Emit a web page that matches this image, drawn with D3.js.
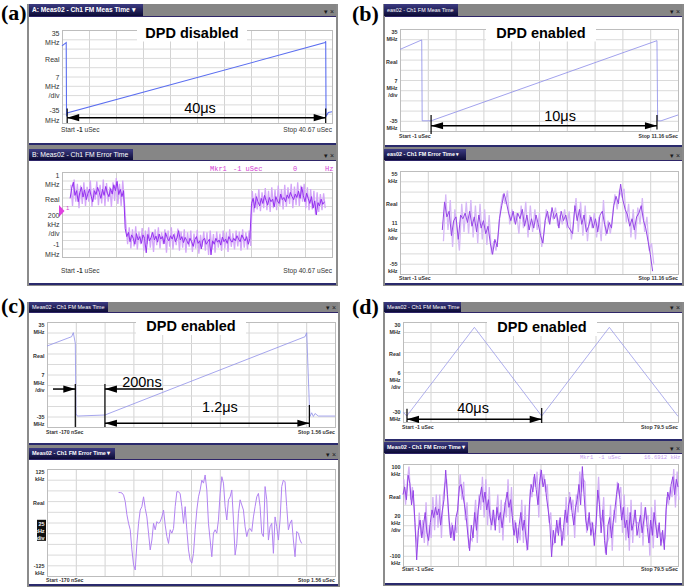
<!DOCTYPE html>
<html>
<head>
<meta charset="utf-8">
<script src="https://cdn.jsdelivr.net/npm/d3@7"></script>
<style>
body { margin: 0; background: #fff; }
svg { display: block; }
text { font-family: "Liberation Sans", Arial, sans-serif; }
</style>
</head>
<body>
<script>
'use strict'

////////////////////////////////////
////////////// data ////////////////
////////////////////////////////////

// sweep span of each screen (uSec) and vertical range
const aTime = [-1, 40.67]
const bTime = [-1, 11.16]
const cTime = [-0.17, 1.56]
const dTime = [-1, 79.5]

const aMeasRange = [-35, 35]      // MHz
const aErrRange = [-1000, 1000]   // kHz
const bMeasRange = [-35, 35]
const bErrRange = [-55, 55]
const cMeasRange = [-35, 35]
const cErrRange = [-125, 125]
const dMeasRange = [-30, 30]
const dErrRange = [-100, 100]

// y labels, top to bottom
const aMeasLabels = ['35', 'MHz', 'Real', '7', 'MHz', '/div', '-35', 'MHz']
const aErrLabels = ['1', 'MHz', 'Real', '200', 'kHz', '/div', '-1', 'MHz']
const bMeasLabels = ['35', 'MHz', 'Real', '7', 'MHz', '/div', '-35', 'MHz']
const bErrLabels = ['55', 'kHz', 'Real', '11', 'kHz', '/div', '-55', 'kHz']
const cMeasLabels = ['35', 'MHz', 'Real', '7', 'MHz', '/div', '-35', 'MHz']
const cErrLabels = ['125', 'kHz', 'Real', '25', 'kHz', '/div', '-125', 'kHz']
const dMeasLabels = ['30', 'MHz', 'Real', '6', 'MHz', '/div', '-30', 'MHz']
const dErrLabels = ['100', 'kHz', 'Real', '20', 'kHz', '/div', '-100', 'kHz']

// FM meas time traces: [uSec, MHz]
const aMeas = [[-1, 23], [-0.35, 25.5], [-0.3, -30], [-0.22, -27.5], [39.6, 25.5], [39.7, 26.5], [39.75, -30], [40.1, -27], [40.67, -26.5]]
const bMeas = [[-1, 21], [-0.05, 27.5], [-0.03, -28], [0.36, -28], [10.24, 27], [10.27, -28], [10.42, -28], [11.16, -24]]
const cMeas = [[-0.17, 19], [-0.022, 25.2], [-0.012, 27.9], [0.0, 20.8], [0.004, -25.9], [0.012, -27.7], [0.178, -27], [1.38, 25.2], [1.39, 27.9], [1.406, -20.3], [1.41, -28], [1.42, -25.5], [1.43, -28], [1.44, -26], [1.46, -27.7], [1.56, -27.7]]
const dMeas = [[-1, -24], [0.1, -26.4], [19.9, 26.8], [39.6, -26.4], [59.4, 26.8], [79.5, -26.6]]

// FM error time traces: sampled values (kHz), first sample time and spacing (uSec)
// *Err = main (dark) trace, *Pk = peak detector (light) trace between the samples
const aErrStart = 0.25, aErrStep = 0.25
const aErr = [
  380, 620, 760, 450, 560, 300, 520, 640, 410, 580, 350, 490, 600, 430, 300, 560, 470, 640, 520, 380,
  590, 450, 660, 500, 420, 610, 480, 700, 560, 780, 470, 590, 420, 560,
  -330, -520, -420, -640, -480, -560, -700, -450, -600, -520, -680, -480, -560, -900, -470, -620, -540, -420, -600, -510,
  -650, -460, -580, -520, -690, -430, -560, -620, -500, -580, -470, -640, -550, -380, -600, -520, -660, -540, -610, -700,
  -560, -640, -750, -590, -520, -680, -620, -810, -600, -560, -700, -640, -580, -950, -620, -700, -560, -650, -600, -720,
  -530, -640, -580, -680, -520, -600, -650, -560, -620, -500, -580, -640, -480, -560, -620, -520, -700, -560,
  260, 380, 150, 420, 300, 200, 380, 260, 450, 330, 220, 400, 300, 360, 180, 420, 320, 260, 480, 350,
  400, 300, 460, 380, 520, 420, 350, 480, 400, 550, 380, 650, 440, 300, 500, 380, 260, 420, 150, 320,
  -10, 280, 200, 360, 240, 300
]
const aPk = [
  700, 200, 820, 300, 720, 150, 680, 250, 760, 200, 650, 300, 800, 180, 620, 350, 780, 220, 700, 260,
  820, 200, 740, 300, 650, 180, 760, 320, 860, 250, 720, 200, 800, 300,
  -250, -700, -300, -800, -350, -750, -280, -820, -400, -700, -320, -850, -380, -700, -300, -780, -420, -880, -350, -720,
  -300, -800, -420, -700, -350, -900, -380, -760, -300, -820, -440, -720, -330, -850, -400, -780, -350, -900, -420, -760,
  -380, -880, -450, -800, -360, -920, -480, -760, -400, -850, -420, -950, -380, -820, -460, -900, -400, -780, -450, -860,
  -380, -800, -420, -880, -350, -760, -440, -820, -380, -750, -400, -850, -350, -780, -420, -820, -380, -740,
  550, 50, 500, 120, 600, 80, 520, 150, 620, 100, 560, 60, 640, 150, 580, 100, 680, 200, 600, 120,
  700, 180, 640, 250, 720, 150, 660, 220, 760, 200, 680, 300, 720, 150, 640, 100, 600, 120, 560, 0,
  520, 60, 480, 100, 500, 150
]
const bErrStart = 0.85, bErrStep = 0.1
const bErr = [
  -8, 22, 6, 12, -14, 2, 6, -18, 8, 4, 10, 0, 12, -4, 6, -10, 8, -6, 2, -12,
  -4, -22, -34, -18, -26, 4, 18, 31, 22, 10, 2, 12, -2, 10, 4, 14, -4, 8, -8, 4,
  -6, 8, -2, -14, -22, 2, 12, -2, 16, 4, 10, -6, 12, 2, 8, -4, -8, -12, 18, 2,
  14, -2, 8, -10, -4, 6, -6, 4, -10, 8, 12, -2, -12, 0, -6, 18, 28, 20, 41, 24,
  14, 8, -4, 4, -8, 6, 10, 18, 2, -6, -20, -34, -52
]
const bPk = [
  -20, 30, -8, 24, -26, 14, -8, -30, 20, -10, 22, -12, 24, -16, 18, -22, 20, -18, 14, -24,
  8, -34, -20, -30, -12, 16, 30, 20, 34, -2, 14, 0, 10, -12, 18, -6, 22, -16, 18, -10,
  14, -8, 10, -26, -10, 14, 0, 10, 4, 16, -4, 8, -2, 14, -6, 12, -18, 4, 26, -10,
  22, -14, 18, -20, 8, -6, 10, -16, 6, -20, 24, -14, 2, -12, 8, 30, 14, 34, 28, 36,
  0, 20, -16, 14, -18, 16, -2, 26, -10, 6, -30, -22, -44
]
const cErrStart = 0.26, cErrStep = 0.01
const cErr = [
  70, 70, 69, 64, 49, 18, -2, -17, -64, -99, -111, -49, -2, 29, 37, 60, 33, 13, -25, -64,
  -41, -2, -17, 2, -2, 2, 13, 29, -6, -33, -49, -17, -25, -14, 37, 72, 72, 67, 37, -2,
  37, -17, -64, -88, -95, -72, -17, 29, 60, 76, 99, 92, 111, 76, -2, -41, -80, -25, -17, -25,
  6, 68, 107, 92, 37, 6, 53, 60, 76, 6, -76, -49, 21, 53, 41, 29, -10, -33, -17, -14,
  -21, 13, 37, 60, 68, 37, -25, -33, 84, 53, -41, -10, -2, -72, 13, -10, -41, 6, 84, 99,
  95, 37, -17, -2, 6, -41, -80, -21, -25, -41, -49
]
const dErrStart = -1, dErrStep = 0.5
const dErr = [
  40, 55, 30, 78, 62, 20, 48, -15, -88, -30, -10, -45, -20, 5, -35, -50, -15, 10, -5, 15,
  0, 12, -20, 8, 30, 88, 40, -10, -45, -20, -50, -5, 10, 55, 60, 40, 20, -5, -40, -70,
  -20, -45, 5, -30, 10, 35, 55, 25, 45, 10, 30, -5, -20, 10, -30, 15, -10, 5, -25, 0,
  25, 45, 15, 30, -5, -40, -15, -55, -20, 5, -30, -10, -45, -68, 20, 60, 45, 80, 50, 20,
  65, 88, 55, 70, 35, 10, -20, -82, -30, -55, -10, -40, -5, -60, -25, 10, -15, 20, 35, 5,
  -20, 15, 30, 60, 20, 95, 40, -10, -30, 5, -40, -15, -60, -20, 49, 20, -35, 10, -50, -78,
  -20, -5, -45, -15, 10, 40, 62, 30, -10, 15, -25, -10, -45, 5, -30, -15, 10, -40, -20, 0,
  -35, -10, 15, -25, -55, -10, -40, 5, -20, -45, -15, -60, -30, -68, 10, 45, 30, 60, 75, 40,
  70, 55
]
const dPk = [
  70, 20, 65, 95, 30, 55, 10, -40, -60, 5, -40, -10, -55, 25, -60, -20, -45, 35, -30, 40,
  -25, 40, -45, 35, 60, 70, 10, -40, -15, -50, -20, -35, 40, 80, 30, 65, -10, 25, -65, -45,
  -50, -15, 30, -55, 40, 10, 75, -5, 70, -20, 55, -30, 10, -20, -5, 40, -35, 30, -50, 25,
  -5, 70, -15, 55, -30, -10, -45, -25, -50, 30, -55, 20, -70, -40, 50, 35, 75, 55, 85, -5,
  90, 60, 80, 45, 60, -15, 5, -60, -55, -25, -35, -10, -30, -35, -50, 35, -40, 45, 10, 30,
  -45, 40, 5, 85, 45, 70, 65, -35, -5, -20, -15, -40, -35, 5, 75, -5, -10, 35, -75, -55,
  -45, 20, -70, 10, -15, 65, 40, 55, -35, 40, -50, 15, -70, 30, -55, 10, -15, -15, -45, 25,
  -60, 15, -10, 0, -80, 15, -65, 30, -45, -20, -40, -35, -55, -45, 35, 20, 55, 35, 90, 15,
  85, 30
]

// annotations: ticks [uSec, top, bottom], arrows [from, to, level, heads], notes [text, uSec, baseline level]
const aTicks = [[-0.2, -24, -35], [39.7, -24, -35]]
const aArrows = [[-0.2, 39.7, -31, 'both']]
const aNotes = [['40μs', 20.3, -27.5]]
const bTicks = [[0.36, -24, -37], [10.24, -24, -34]]
const bArrows = [[0.36, 10.24, -31.4, 'both']]
const bNotes = [['10μs', 6.0, -27.8]]
const cTicks = [[0.0, -6.3, -35], [0.178, -6.3, -35], [1.406, -20.3, -35]]
const cArrows = [[-0.134, 0.0, -9.7, 'end'], [0.527, 0.178, -9.7, 'end'], [0.178, 1.406, -32.5, 'both']]
const cNotes = [['200ns', 0.40, -8.5], ['1.2μs', 0.869, -25.2]]
const dTicks = [[0.17, -22, -30], [39.6, -21.6, -30.6]]
const dArrows = [[0.17, 39.6, -28.4, 'both']]
const dNotes = [['40μs', 19.5, -24.6]]

////////////////////////////////////
//////////// svg setup /////////////
////////////////////////////////////

const svg = d3.select('body').append('svg')
    .attr('width', 685)
    .attr('height', 588)

const grad = svg.append('defs').append('linearGradient')
    .attr('id', 'tabGrad')
    .attr('x1', 0).attr('y1', 0).attr('x2', 0).attr('y2', 1)
grad.append('stop').attr('offset', '0%').attr('stop-color', '#3c3b82')
grad.append('stop').attr('offset', '100%').attr('stop-color', '#0c0b36')

// panel frames + letters
const panels = [
    {label: '(a)', lx: 1, ly: 20, frame: [27, 4, 338, 286]},
    {label: '(b)', lx: 352, ly: 21, frame: [383, 4, 684, 286]},
    {label: '(c)', lx: 1, ly: 313, frame: [27, 302, 340, 587]},
    {label: '(d)', lx: 352, ly: 314, frame: [383, 302, 684, 586]}
]

panels.forEach(p => {
    svg.append('rect')
        .attr('x', p.frame[0]).attr('y', p.frame[1])
        .attr('width', p.frame[2] - p.frame[0]).attr('height', p.frame[3] - p.frame[1])
        .attr('fill', '#8b8b8b')
    svg.append('text')
        .attr('x', p.lx).attr('y', p.ly)
        .style('font-family', '"Liberation Serif", "Times New Roman", serif')
        .style('font-weight', 'bold')
        .style('font-size', '22px')
        .text(p.label)
})

////////////////////////////////////
///////////// screens //////////////
////////////////////////////////////

const scopes = [
    { // (a) top
        fx: [27, 338], bar: [4, 16], tabTop: 4, body: 143, tab: [29, 143],
        title: 'A: Meas02 - Ch1 FM Meas Time  ▾', tfs: 6.6, tbold: true,
        plot: [62, 332, 30, 123], fs: 7, lfs: 6.6, bold: false,
        xd: aTime, yd: aMeasRange, labels: aMeasLabels,
        start: ['Start ', '-1', ' uSec'], stop: 'Stop 40.67 uSec', stopY: 131.5,
        meas: aMeas, measColor: '#5b6ef0', measW: 1.1,
        banner: {text: 'DPD disabled', cx: 192, by: 37.5},
        ticks: aTicks, arrows: aArrows, notes: aNotes
    },
    { // (a) bottom
        fx: [27, 338], bar: [145, 160], tabTop: 149, body: 283, tab: [29, 133],
        title: 'B: Meas02 - Ch1 FM Error Time', tfs: 6.8, tbold: false,
        plot: [62, 332, 172, 257], fs: 7, lfs: 6.6, bold: false,
        xd: aTime, yd: aErrRange, labels: aErrLabels,
        start: ['Start ', '-1', ' uSec'], stop: 'Stop 40.67 uSec', stopY: 273,
        err: {t0: aErrStart, dt: aErrStep, v: aErr, pk: aPk}, errColor: '#9430f0', pkColor: '#d3a6f8',
        marker: {y: 170.5, color: '#d23cd2', size: 7, parts: [['Mkr1', 210], ['-1 uSec', 233], ['0', 293], ['Hz', 325]]},
        leftMarker: 82
    },
    { // (b) top
        fx: [383, 684], bar: [4, 16], tabTop: 4, body: 145, tab: [384, 458],
        title: 'eas02 - Ch1 FM Meas Time', tfs: 5.4, tbold: false,
        plot: [400, 678, 29, 131], fs: 5.4, lfs: 5.2, bold: true,
        xd: bTime, yd: bMeasRange, labels: bMeasLabels,
        start: ['Start -1 uSec'], stop: 'Stop 11.16 uSec', stopY: 138,
        meas: bMeas, measColor: '#8a8ae8', measW: 0.8,
        banner: {text: 'DPD enabled', cx: 541, by: 37.5},
        ticks: bTicks, arrows: bArrows, notes: bNotes
    },
    { // (b) bottom
        fx: [383, 684], bar: [147, 160], tabTop: 149, body: 283, tab: [384, 466],
        title: 'eas02 - Ch1 FM Error Time  ▾', tfs: 5.4, tbold: true,
        plot: [400, 678, 171, 274], fs: 5.4, lfs: 5.2, bold: true,
        xd: bTime, yd: bErrRange, labels: bErrLabels,
        start: ['Start -1 uSec'], stop: 'Stop 11.16 uSec', stopY: 280,
        err: {t0: bErrStart, dt: bErrStep, v: bErr, pk: bPk}, errColor: '#9646e6', pkColor: '#d6b8f6'
    },
    { // (c) top
        fx: [27, 340], bar: [302, 312], tabTop: 302, body: 443, tab: [29, 108],
        title: 'Meas02 - Ch1 FM Meas Time', tfs: 5.5, tbold: false,
        plot: [47, 335, 322, 427], fs: 5.4, lfs: 5.2, bold: true,
        xd: cTime, yd: cMeasRange, labels: cMeasLabels,
        start: ['Start -170 nSec'], stop: 'Stop 1.56 uSec', stopY: 433.5,
        meas: cMeas, measColor: '#8f8fe8', measW: 0.8,
        banner: {text: 'DPD enabled', cx: 191, by: 331},
        ticks: cTicks, arrows: cArrows, notes: cNotes
    },
    { // (c) bottom
        fx: [27, 340], bar: [445, 459], tabTop: 448, body: 584, tab: [29, 115],
        title: 'Meas02 - Ch1 FM Error Time  ▾', tfs: 5.5, tbold: true,
        plot: [47, 335, 469, 576], fs: 5.4, lfs: 5.2, bold: true,
        xd: cTime, yd: cErrRange, labels: cErrLabels, highlight: true,
        start: ['Start -170 nSec'], stop: 'Stop 1.56 uSec', stopY: 582,
        err: {t0: cErrStart, dt: cErrStep, v: cErr}, errColor: '#b283f2'
    },
    { // (d) top
        fx: [383, 684], bar: [302, 312], tabTop: 302, body: 439, tab: [384, 461],
        title: 'Meas02 - Ch1 FM Meas Time', tfs: 5.5, tbold: false,
        plot: [403, 678, 322, 422], fs: 5.4, lfs: 5.2, bold: true,
        xd: dTime, yd: dMeasRange, labels: dMeasLabels,
        start: ['Start -1 uSec'], stop: 'Stop 79.5 uSec', stopY: 429,
        meas: dMeas, measColor: '#9a9ae8', measW: 0.8,
        banner: {text: 'DPD enabled', cx: 542, by: 332},
        ticks: dTicks, arrows: dArrows, notes: dNotes
    },
    { // (d) bottom
        fx: [383, 684], bar: [441, 453], tabTop: 442, body: 583, tab: [384, 468],
        title: 'Meas02 - Ch1 FM Error Time  ▾', tfs: 5.5, tbold: true,
        plot: [403, 678, 464, 566], fs: 5.4, lfs: 5.2, bold: true,
        xd: dTime, yd: dErrRange, labels: dErrLabels,
        start: ['Start -1 uSec'], stop: 'Stop 79.5 uSec', stopY: 571,
        err: {t0: dErrStart, dt: dErrStep, v: dErr, pk: dPk}, errColor: '#9443e6', pkColor: '#d2b0f5',
        marker: {y: 459, color: '#c49cf0', size: 5.5, parts: [['Mkr1', 580], ['-1 uSec', 598], ['16.6912 kHz', 644]]}
    }
]

function drawScope(s) {

    const g = svg.append('g')
    const [fx0, fx1] = s.fx
    const [px0, px1, py0, py1] = s.plot

    // title bar
    g.append('rect')
        .attr('x', fx0 + 2).attr('y', s.bar[0])
        .attr('width', fx1 - fx0 - 4).attr('height', s.bar[1] - s.bar[0])
        .attr('fill', '#868686')
    g.append('rect')
        .attr('x', s.tab[0]).attr('y', s.tabTop)
        .attr('width', s.tab[1] - s.tab[0]).attr('height', s.bar[1] - s.tabTop)
        .attr('fill', 'url(#tabGrad)')
    g.append('text')
        .attr('x', s.tab[0] + 3).attr('y', s.bar[1] - (s.bar[1] - s.tabTop) / 2 + s.tfs * 0.36)
        .attr('fill', '#fff')
        .style('font-size', s.tfs + 'px')
        .style('font-weight', s.tbold ? 'bold' : 'normal')
        .text(s.title)
    g.append('text')
        .attr('x', fx1 - 4).attr('y', s.bar[1] - 2.5)
        .attr('text-anchor', 'end')
        .attr('fill', '#1a1a1a')
        .style('font-size', '7px')
        .text('▾ ×')

    // window body
    g.append('rect')
        .attr('x', fx0 + 2).attr('y', s.bar[1])
        .attr('width', fx1 - fx0 - 4).attr('height', s.body - s.bar[1])
        .attr('fill', '#fff')
    g.append('rect')
        .attr('x', fx0 + 2).attr('y', s.bar[1])
        .attr('width', fx1 - fx0 - 4).attr('height', 1)
        .attr('fill', '#2e2568')
    g.append('rect')
        .attr('x', fx0 + 2).attr('y', s.body)
        .attr('width', fx1 - fx0 - 4).attr('height', 2)
        .attr('fill', '#2a2a6c')

    // scales
    const x = d3.scaleLinear().domain(s.xd).range([px0, px1])
    const y = d3.scaleLinear().domain(s.yd).range([py1, py0])
    const divs = d => d3.range(11).map(i => d[0] + i * (d[1] - d[0]) / 10)

    // grid from axes
    g.append('g')
        .attr('transform', `translate(0,${py1})`)
        .call(d3.axisBottom(x).tickValues(divs(s.xd)).tickSize(-(py1 - py0)).tickFormat(''))
        .call(a => a.select('.domain').remove())
        .selectAll('line').attr('stroke', '#d3d3d3')
    g.append('g')
        .attr('transform', `translate(${px0},0)`)
        .call(d3.axisLeft(y).tickValues(divs(s.yd)).tickSize(-(px1 - px0)).tickFormat(''))
        .call(a => a.select('.domain').remove())
        .selectAll('line').attr('stroke', '#dadada')
    g.append('rect')
        .attr('x', px0 + 0.5).attr('y', py0 + 0.5)
        .attr('width', px1 - px0).attr('height', py1 - py0)
        .attr('fill', 'none').attr('stroke', '#bdbdbd')

    // traces
    const line = d3.line().x(d => x(d[0])).y(d => y(d[1]))
    if (s.meas) {
        g.append('path')
            .attr('d', line(s.meas))
            .attr('fill', 'none')
            .attr('stroke', s.measColor)
            .attr('stroke-width', s.measW)
    }
    if (s.err) {
        const pts = s.err.v.map((v, i) => [s.err.t0 + i * s.err.dt, v])
        if (s.err.pk) {
            const pk = s.err.pk.map((v, i) => [s.err.t0 + (i + 0.5) * s.err.dt, v])
            g.append('path')
                .attr('d', line(pk))
                .attr('fill', 'none')
                .attr('stroke', s.pkColor)
                .attr('stroke-width', 1.3)
        }
        g.append('path')
            .attr('d', line(pts))
            .attr('fill', 'none')
            .attr('stroke', s.errColor)
            .attr('stroke-width', 1)
    }

    // marker readout
    if (s.marker) {
        s.marker.parts.forEach(p => {
            g.append('text')
                .attr('x', p[1]).attr('y', s.marker.y)
                .attr('fill', s.marker.color)
                .style('font-family', '"Liberation Mono", "DejaVu Sans Mono", monospace')
                .style('font-size', s.marker.size + 'px')
                .text(p[0])
        })
    }
    if (s.leftMarker !== undefined) {
        const my = y(s.leftMarker)
        g.append('path')
            .attr('d', `M${px0 - 3},${my - 6}L${px0 + 2.5},${my}L${px0 - 3},${my + 6}Z`)
            .attr('fill', '#e040e0')
        g.append('text')
            .attr('x', px0 + 4).attr('y', my - 1)
            .attr('fill', '#d23cd2')
            .style('font-size', '6px')
            .text('1')
    }

    // y labels
    const fs = s.fs
    const lh = fs * 1.3
    const h = py1 - py0
    const centers = [py0 + 3, py0 + 3 + lh, py0 + 0.32 * h,
        py0 + 0.51 * h, py0 + 0.51 * h + lh, py0 + 0.51 * h + 2 * lh,
        py1 - 3 - lh, py1 - 3]
    if (s.highlight) {
        g.append('rect')
            .attr('x', px0 - 10).attr('y', centers[3] - fs * 0.7)
            .attr('width', 9).attr('height', 2 * lh + fs * 1.3)
            .attr('fill', '#111')
    }
    s.labels.forEach((t, i) => {
        g.append('text')
            .attr('x', px0 - 2.5).attr('y', centers[i] + fs * 0.36)
            .attr('text-anchor', 'end')
            .attr('fill', s.highlight && i >= 3 && i <= 5 ? '#fff' : '#333')
            .style('font-size', fs + 'px')
            .style('font-weight', s.bold ? 'bold' : 'normal')
            .text(t)
    })

    // start / stop
    const st = g.append('text')
        .attr('x', px0 - 1).attr('y', s.stopY)
        .attr('fill', '#333')
        .style('font-size', s.lfs + 'px')
        .style('font-weight', s.bold ? 'bold' : 'normal')
    s.start.forEach((t, i) => {
        st.append('tspan').style('font-weight', (i === 1 || s.bold) ? 'bold' : 'normal').text(t)
    })
    g.append('text')
        .attr('x', px1).attr('y', s.stopY)
        .attr('text-anchor', 'end')
        .attr('fill', '#333')
        .style('font-size', s.lfs + 'px')
        .style('font-weight', s.bold ? 'bold' : 'normal')
        .text(s.stop)

    // banner
    if (s.banner) {
        g.append('rect')
            .attr('x', s.banner.cx - 55).attr('y', s.banner.by - 12.5)
            .attr('width', 110).attr('height', 16.5)
            .attr('fill', '#fff')
        g.append('text')
            .attr('x', s.banner.cx).attr('y', s.banner.by)
            .attr('text-anchor', 'middle')
            .attr('fill', '#000')
            .style('font-size', '14.5px')
            .style('font-weight', 'bold')
            .text(s.banner.text)
    }

    // annotations
    if (s.ticks) {
        s.ticks.forEach(d => {
            g.append('line')
                .attr('x1', x(d[0])).attr('x2', x(d[0]))
                .attr('y1', y(d[1])).attr('y2', y(d[2]))
                .attr('stroke', '#000').attr('stroke-width', 1.2)
        })
        const head = (tx, ty, dir) => `M${tx},${ty}L${tx - dir * 12},${ty - 3.6}L${tx - dir * 12},${ty + 3.6}Z`
        s.arrows.forEach(d => {
            const xa = x(d[0]), xb = x(d[1]), ya = y(d[2])
            const dir = xb > xa ? 1 : -1
            g.append('line')
                .attr('x1', xa).attr('x2', xb).attr('y1', ya).attr('y2', ya)
                .attr('stroke', '#000').attr('stroke-width', 1.5)
            g.append('path').attr('d', head(xb, ya, dir)).attr('fill', '#000')
            if (d[3] === 'both') g.append('path').attr('d', head(xa, ya, -dir)).attr('fill', '#000')
        })
        s.notes.forEach(d => {
            g.append('text')
                .attr('x', x(d[1])).attr('y', y(d[2]))
                .attr('text-anchor', 'middle')
                .attr('fill', '#000')
                .style('font-size', '14.5px')
                .text(d[0])
        })
    }
}

scopes.forEach(drawScope)
</script>
</body>
</html>
